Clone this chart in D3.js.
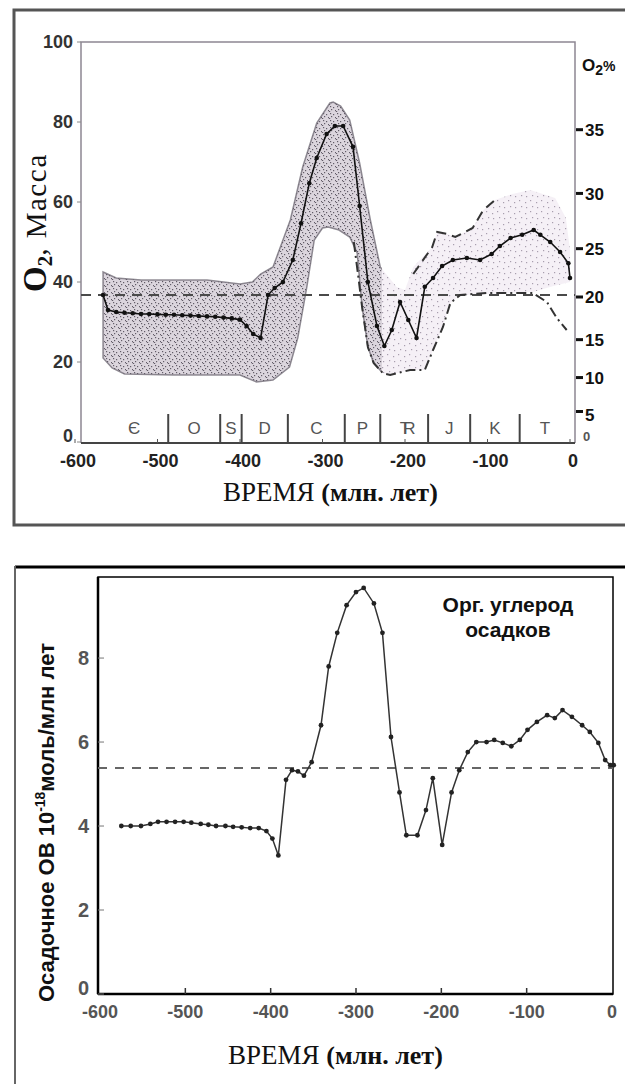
<!DOCTYPE html>
<html>
<head>
<meta charset="utf-8">
<script src="https://cdn.jsdelivr.net/npm/d3@7"></script>
<style>
  body { margin: 0; background: #fff; }
  text { font-family: "Liberation Sans", Arial, sans-serif; }
  .bold { font-weight: bold; }
  .serif { font-family: "Liberation Serif", "Times New Roman", serif; }
</style>
</head>
<body>
<div id="chart"></div>
<script>
// ---- data: O2 mass (top panel), ages in Myr ----
const o2Mean = [[-566,36.75],[-560,33],[-550,32.5],[-540,32.3],[-530,32.2],[-520,32],[-510,32],[-500,31.9],[-490,31.8],[-480,31.8],[-470,31.7],[-460,31.6],[-450,31.5],[-440,31.4],[-430,31.3],[-420,31.1],[-410,30.9],[-400,30.6],[-392,29],[-384,27],[-375,26],[-366,36.75],[-358,38.5],[-348,40],[-336,45.5],[-326,54.7],[-316,64.7],[-307,71],[-295,77],[-285,79],[-275,79],[-263,73.8],[-255,59],[-245,40],[-234,29],[-225,24],[-216,28],[-206,35],[-196,30.5],[-186,26],[-176,38.8],[-166,41],[-155,44],[-142,45.5],[-125,46],[-109,45.5],[-95,47],[-85,49],[-72,51],[-58,51.8],[-44,53],[-36,51.8],[-24,50],[-12,47.5],[-2,44.7],[0,41]];
const bandUpper = [[-566,42.5],[-550,41],[-520,40.5],[-480,40.5],[-440,40.5],[-400,39.5],[-385,40],[-375,42],[-360,43.75],[-339,55.5],[-324,68.75],[-307,79.75],[-291,84.75],[-287,85],[-278,84],[-267,80.5],[-255,69.75],[-242,55.5],[-230,43.75],[-210,38.75],[-200,38],[-190,43.75],[-167,48.75],[-161,52.5],[-149,52],[-139,51.25],[-118,53.5],[-105,58],[-91,60.5],[-70,62],[-48,63],[-18,61],[-5,56],[0,48]];
const bandLower = [[-566,21],[-555,18.5],[-540,17],[-480,16.75],[-400,16.75],[-380,15],[-360,15.5],[-340,18.75],[-330,26],[-319,38.75],[-310,50.5],[-300,53.5],[-293,53.75],[-280,53],[-267,51.25],[-258,47.25],[-252,33.75],[-245,23.75],[-238,19.75],[-227,17.25],[-218,16.75],[-194,18],[-176,18],[-166,23],[-154,28.75],[-145,34.75],[-133,36.75],[-100,37],[-45,37.5],[-20,39],[0,40]];
const lowerDashDot = [[-262,50],[-257,42],[-252,33.75],[-245,23.75],[-238,19.75],[-227,17.25],[-218,16.75],[-194,18],[-176,18],[-166,23],[-154,28.75],[-145,34.75],[-133,36.75],[-100,37.25],[-45,37.25],[-28,35],[-16,31],[-4,28]];
const upperDashed = [[-190,42],[-167,48.75],[-161,52.5],[-149,52],[-139,51.25],[-118,53.5],[-105,58],[-91,60.5]];
const presentMass = 36.75;
const N2_MASS = 145;   // converts mass to O2 %
const massTicks = [0, 20, 40, 60, 80, 100];
const pctTicks = [5, 10, 15, 20, 25, 30, 35];
const ageTicks = [-600, -500, -400, -300, -200, -100, 0];
const periodNames = ['Є', 'O', 'S', 'D', 'C', 'P', 'TR', 'J', 'K', 'T'];
const periodBounds = [-570, -487, -424, -398, -342, -273, -230, -172, -121, -61, 0];

// ---- data: sedimentary organic carbon (bottom panel) ----
const orgCarbon = [[-575,4.0],[-564,4.0],[-552,4.0],[-541,4.05],[-532,4.1],[-522,4.1],[-512,4.1],[-502,4.1],[-493,4.08],[-482,4.05],[-473,4.03],[-464,4.0],[-453,4.0],[-444,3.98],[-434,3.97],[-424,3.95],[-414,3.95],[-405,3.88],[-398,3.7],[-391,3.3],[-382,5.1],[-375,5.33],[-368,5.3],[-361,5.2],[-352,5.52],[-341,6.4],[-332,7.8],[-322,8.6],[-311,9.26],[-300,9.57],[-291,9.67],[-279,9.3],[-269,8.6],[-259,6.12],[-249,4.8],[-241,3.78],[-228,3.78],[-218,4.38],[-210,5.14],[-199,3.55],[-188,4.8],[-179,5.33],[-169,5.76],[-159,6.0],[-147,6.0],[-138,6.05],[-128,5.98],[-118,5.9],[-108,6.05],[-99,6.29],[-88,6.48],[-76,6.64],[-67,6.57],[-58,6.76],[-47,6.6],[-35,6.4],[-26,6.24],[-16,5.98],[-8,5.57],[-2,5.45],[2,5.45]];
const carbonRef = 5.38;
const carbonTicks = [0, 2, 4, 6, 8];

const W = 625, H = 1084;
const svg = d3.select('#chart').append('svg').attr('width', W).attr('height', H);
const defs = svg.append('defs');

// stipple textures for the uncertainty band
function stipple(id, size, bg, ink, dots) {
  const p = defs.append('pattern').attr('id', id).attr('width', size).attr('height', size)
    .attr('patternUnits', 'userSpaceOnUse');
  p.append('rect').attr('width', size).attr('height', size).attr('fill', bg);
  dots.forEach(([x, y]) => p.append('rect').attr('x', x).attr('y', y).attr('width', 1.2).attr('height', 1.2).attr('fill', ink));
}
stipple('dense', 7, '#dbd5dd', '#625c68', [[1,1],[4,2],[2,4],[6,5],[0,6]]);
stipple('sparse', 11, '#f5f0f6', '#a89eae', [[2,2],[8,4],[4,8],[9,9]]);

// ================= TOP PANEL =================
const xTop = d3.scaleLinear().domain([-600, 0]).range([75, 570]);
const yTop = d3.scaleLinear().domain([0, 100]).range([442, 42]);
const lineTop = d3.line().x(d => xTop(d[0])).y(d => yTop(d[1]));

// outer frame
svg.append('path').attr('d', 'M625,10H14V525H625').attr('fill', 'none').attr('stroke', '#555').attr('stroke-width', 3);

// band
const bandPath = lineTop(bandUpper.concat(bandLower.slice().reverse())) + 'Z';
const split = xTop(-228);
defs.append('clipPath').attr('id', 'clipL').append('rect').attr('x', 0).attr('y', 0).attr('width', split).attr('height', 520);
defs.append('clipPath').attr('id', 'clipR').append('rect').attr('x', split).attr('y', 0).attr('width', 200).attr('height', 520);
svg.append('path').attr('d', bandPath).attr('fill', 'url(#sparse)').attr('clip-path', 'url(#clipR)');
svg.append('path').attr('d', bandPath).attr('fill', 'url(#dense)')
  .attr('stroke', '#625c68').attr('stroke-width', 1.5).attr('stroke-opacity', 0.7).attr('clip-path', 'url(#clipL)');

// plot frame
svg.append('path').attr('d', `M81,443V42H575V443`).attr('fill', 'none').attr('stroke', '#8d8792').attr('stroke-width', 1.5);
svg.append('line').attr('x1', 81).attr('x2', 575).attr('y1', 443).attr('y2', 443).attr('stroke', '#444').attr('stroke-width', 2);

// present-day level
svg.append('line').attr('x1', 81).attr('x2', 575).attr('y1', yTop(presentMass)).attr('y2', yTop(presentMass))
  .attr('stroke', '#4a4a4a').attr('stroke-width', 2).attr('stroke-dasharray', '10,7');

svg.append('path').attr('d', lineTop(lowerDashDot)).attr('fill', 'none').attr('stroke', '#333')
  .attr('stroke-width', 2).attr('stroke-dasharray', '10,4,2,4');
svg.append('path').attr('d', lineTop(upperDashed)).attr('fill', 'none').attr('stroke', '#333')
  .attr('stroke-width', 2).attr('stroke-dasharray', '10,6');

// mean curve
svg.append('path').attr('d', lineTop(o2Mean)).attr('fill', 'none').attr('stroke', '#111').attr('stroke-width', 1.6);
svg.append('g').selectAll('circle').data(o2Mean).enter().append('circle')
  .attr('cx', d => xTop(d[0])).attr('cy', d => yTop(d[1])).attr('r', 2.3).attr('fill', '#111');

// left axis
const leftTop = svg.append('g');
leftTop.selectAll('line').data(massTicks).enter().append('line')
  .attr('x1', 77).attr('x2', 81).attr('y1', d => yTop(d)).attr('y2', d => yTop(d)).attr('stroke', '#888');
leftTop.selectAll('text').data(massTicks).enter().append('text').attr('class', 'bold')
  .attr('x', 73).attr('y', d => yTop(d) - (d === 0 ? 6 : 0)).attr('dy', '0.36em').attr('text-anchor', 'end')
  .attr('font-size', 18).attr('fill', '#333').text(d => d);

// right axis (O2 %)
const massOfPct = p => N2_MASS * p / (100 - p);
const rightTop = svg.append('g');
rightTop.selectAll('line').data(pctTicks).enter().append('line')
  .attr('x1', 576).attr('x2', 583).attr('y1', d => yTop(massOfPct(d))).attr('y2', d => yTop(massOfPct(d)))
  .attr('stroke', '#111').attr('stroke-width', 3);
rightTop.selectAll('text').data(pctTicks).enter().append('text').attr('class', 'bold')
  .attr('x', 585).attr('y', d => yTop(massOfPct(d)) + (d === 5 ? 3 : 0)).attr('dy', '0.36em')
  .attr('font-size', 17).attr('fill', '#111').text(d => d);
svg.append('text').attr('class', 'bold').attr('x', 583).attr('y', 441).attr('font-size', 13).attr('fill', '#555').text('0');
const o2p = svg.append('text').attr('class', 'bold').attr('x', 582).attr('y', 71).attr('font-size', 17).attr('fill', '#111');
o2p.append('tspan').text('O');
o2p.append('tspan').attr('dy', 4).attr('font-size', 14).text('2');
o2p.append('tspan').attr('dy', -4).attr('font-size', 14).text('%');

// bottom axis
const botTop = svg.append('g');
botTop.selectAll('line').data(ageTicks).enter().append('line')
  .attr('x1', d => xTop(d)).attr('x2', d => xTop(d)).attr('y1', 439).attr('y2', 443).attr('stroke', '#555');
botTop.selectAll('text').data(ageTicks).enter().append('text').attr('class', 'bold')
  .attr('x', d => xTop(d) + 3).attr('y', 467).attr('text-anchor', 'middle')
  .attr('font-size', 18).attr('fill', '#222').text(d => d);

// geological periods
const periods = svg.append('g');
periods.selectAll('line').data(periodBounds.slice(1, -1)).enter().append('line')
  .attr('x1', d => xTop(d)).attr('x2', d => xTop(d)).attr('y1', 414).attr('y2', 443)
  .attr('stroke', '#444').attr('stroke-width', 2);
periods.selectAll('text').data(periodNames).enter().append('text')
  .attr('x', (d, i) => xTop((periodBounds[i] + periodBounds[i + 1]) / 2)).attr('y', 434)
  .attr('text-anchor', 'middle').attr('font-size', 17).attr('fill', '#555')
  .attr('letter-spacing', d => d === 'TR' ? -7 : 0).text(d => d);

// titles
const yt = svg.append('text').attr('class', 'serif').attr('transform', 'translate(46,292) rotate(-90)').attr('fill', '#111');
yt.append('tspan').attr('font-weight', 'bold').attr('font-size', 33).text('O');
yt.append('tspan').attr('font-weight', 'bold').attr('font-size', 21).attr('dy', 6).text('2');
yt.append('tspan').attr('font-size', 29).attr('dy', -6).attr('letter-spacing', 1.5).text(', Масса');

const xt = svg.append('text').attr('class', 'serif').attr('x', 223).attr('y', 501).attr('fill', '#111');
xt.append('tspan').attr('font-size', 27).text('ВРЕМЯ ');
xt.append('tspan').attr('font-size', 26).attr('font-weight', 'bold').text('(млн. лет)');

// ================= BOTTOM PANEL =================
const xBot = d3.scaleLinear().domain([-600, 0]).range([100, 612]);
const yBot = d3.scaleLinear().domain([0, 9.93]).range([994, 577]);
const lineBot = d3.line().x(d => xBot(d[0])).y(d => yBot(d[1]));

svg.append('line').attr('x1', 15).attr('x2', 625).attr('y1', 567).attr('y2', 567).attr('stroke', '#000').attr('stroke-width', 3);
svg.append('line').attr('x1', 15).attr('x2', 15).attr('y1', 566).attr('y2', 1084).attr('stroke', '#666').attr('stroke-width', 2);
svg.append('path').attr('d', 'M98,994V577H613V994Z').attr('fill', 'none').attr('stroke', '#000').attr('stroke-width', 1.5);
svg.append('line').attr('x1', 98).attr('x2', 613).attr('y1', 994).attr('y2', 994).attr('stroke', '#000').attr('stroke-width', 2.5);
svg.append('line').attr('x1', 98).attr('x2', 98).attr('y1', 577).attr('y2', 994).attr('stroke', '#000').attr('stroke-width', 2.5);

const leftBot = svg.append('g');
leftBot.selectAll('line').data(carbonTicks).enter().append('line')
  .attr('x1', 98).attr('x2', 104).attr('y1', d => yBot(d)).attr('y2', d => yBot(d)).attr('stroke', '#777');
leftBot.selectAll('text').data(carbonTicks).enter().append('text')
  .attr('x', 89).attr('y', d => yBot(d) - (d === 0 ? 6 : 0)).attr('dy', '0.36em').attr('text-anchor', 'end')
  .attr('font-size', 20).attr('font-weight', 'bold').attr('fill', '#555').text(d => d);

const botBot = svg.append('g');
botBot.selectAll('line').data(ageTicks.slice(1, -1)).enter().append('line')
  .attr('x1', d => xBot(d)).attr('x2', d => xBot(d)).attr('y1', 988).attr('y2', 994).attr('stroke', '#333').attr('stroke-width', 1.5);
botBot.selectAll('text').data(ageTicks).enter().append('text')
  .attr('x', d => xBot(d)).attr('y', 1018).attr('text-anchor', 'middle')
  .attr('font-size', 18).attr('font-weight', 'bold').attr('fill', '#555').text(d => d);

svg.append('line').attr('x1', 98).attr('x2', 613).attr('y1', yBot(carbonRef)).attr('y2', yBot(carbonRef))
  .attr('stroke', '#666').attr('stroke-width', 2).attr('stroke-dasharray', '9,8');

svg.append('path').attr('d', lineBot(orgCarbon)).attr('fill', 'none').attr('stroke', '#333').attr('stroke-width', 1.5);
svg.append('g').selectAll('circle').data(orgCarbon).enter().append('circle')
  .attr('cx', d => xBot(d[0])).attr('cy', d => yBot(d[1])).attr('r', 2.4).attr('fill', '#222');

// legend
const leg = svg.append('text').attr('class', 'bold').attr('text-anchor', 'middle').attr('font-size', 21).attr('fill', '#111');
leg.append('tspan').attr('x', 508).attr('y', 612).text('Орг. углерод');
leg.append('tspan').attr('x', 508).attr('y', 637).text('осадков');

// bottom titles
const yb = svg.append('text').attr('transform', 'translate(54,1002) rotate(-90)')
  .attr('font-size', 22).attr('font-weight', 'bold').attr('fill', '#111');
yb.append('tspan').text('Осадочное ОВ 10');
yb.append('tspan').attr('dy', -9).attr('font-size', 14).text('-18');
yb.append('tspan').attr('dy', 9).text('моль/млн лет');

const xb = svg.append('text').attr('class', 'serif').attr('x', 228).attr('y', 1064).attr('fill', '#111');
xb.append('tspan').attr('font-size', 27).text('ВРЕМЯ ');
xb.append('tspan').attr('font-size', 26).attr('font-weight', 'bold').text('(млн. лет)');
</script>
</body>
</html>
